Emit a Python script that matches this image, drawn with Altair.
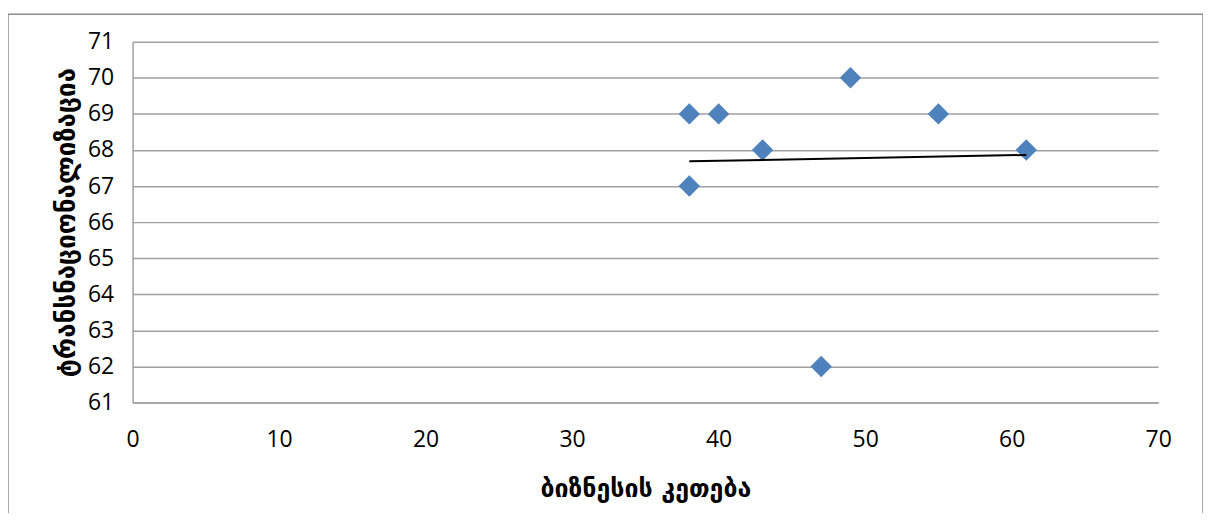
import altair as alt
import pandas as pd

x_vals = [38, 40, 49, 55, 43, 61, 38, 47]
y_vals = [69, 69, 70, 69, 68, 68, 67, 62]
x_title = "ბიზნესის კეთება"
y_title = "ტრანსნაციონალიზაცია"
x_ticks = [0, 10, 20, 30, 40, 50, 60, 70]
y_ticks = [61, 62, 63, 64, 65, 66, 67, 68, 69, 70, 71]

df = pd.DataFrame({"x": x_vals, "y": y_vals})

label_font = "Open Sans"
title_font = "DejaVu Sans"

xs = alt.Scale(domain=[0, 70], nice=False, zero=False)
ys = alt.Scale(domain=[61, 71], nice=False, zero=False)

x_axis = alt.Axis(values=x_ticks, grid=False, ticks=False, domainColor="#A0A0A0", domainWidth=1.5,
                  labelFont=label_font, labelFontSize=23, labelColor="black", labelPadding=26,
                  labelFlush=False, labelOverlap=False,
                  title=x_title, titleFont=title_font, titleFontSize=25, titleFontWeight="bold",
                  titleColor="black", titleY=86, titleBaseline="middle")
y_axis = alt.Axis(values=y_ticks, tickCount=11, grid=True, gridColor="#A0A0A0", gridWidth=1.5, ticks=False,
                  domainColor="#A0A0A0", domainWidth=1.5,
                  labelFont=label_font, labelFontSize=23, labelColor="black", labelPadding=19,
                  labelFlush=False, labelOverlap=False,
                  title=y_title, titleFont=title_font, titleFontSize=26, titleFontWeight="bold",
                  titleColor="black", titleX=-66, titleY=181, titleAngle=-90, titleBaseline="middle")

X = alt.X("x:Q", scale=xs, axis=x_axis)
Y = alt.Y("y:Q", scale=ys, axis=y_axis)

base = alt.Chart(df)

points = base.mark_point(shape="diamond", filled=True, size=460, color="#4F81BD", opacity=1).encode(
    x=X, y=Y,
)

trend = base.transform_regression("x", "y").mark_line(color="black", strokeWidth=2).encode(
    x=X, y=Y,
)

frame = alt.Chart(alt.Data(values=[{}])).mark_rect(fill=None, stroke="#8C8C8C", strokeWidth=1.5).encode(
    x=alt.value(-125), x2=alt.value(1074), y=alt.value(-27.5), y2=alt.value(620)
)

chart = alt.layer(frame, points, trend).properties(
    width=1029, height=362,
    padding={"left": 125, "top": 33, "right": 45, "bottom": 110},
    autosize=alt.AutoSizeParams(type="none"),
).configure_view(stroke=None)

chart.save("out.html", embed_options={"renderer": "svg", "actions": False})
